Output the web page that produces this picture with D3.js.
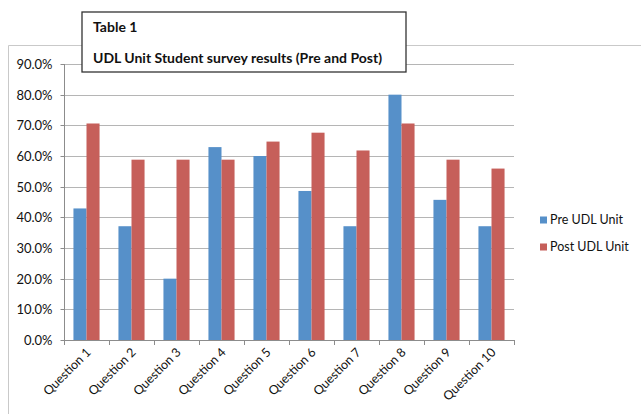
<!DOCTYPE html>
<html>
<head>
<meta charset="utf-8">
<script src="https://cdn.jsdelivr.net/npm/d3@7"></script>
<style>
  html, body { margin: 0; padding: 0; background: #fff; }
  svg { display: block; font-family: Lato, "Open Sans", sans-serif; }
</style>
</head>
<body>
<svg id="chart" width="641" height="414"></svg>
<script>
// Survey categories and the share of students answering positively
const questions = ["Question 1", "Question 2", "Question 3", "Question 4", "Question 5",
                   "Question 6", "Question 7", "Question 8", "Question 9", "Question 10"];
const seriesNames = ["Pre UDL Unit", "Post UDL Unit"];
const preValues  = [42.9, 37.1, 20.0, 62.9, 60.0, 48.6, 37.1, 80.0, 45.7, 37.1];
const postValues = [70.6, 58.8, 58.8, 58.8, 64.7, 67.6, 61.8, 70.6, 58.8, 55.9];
const seriesColors = ["#5690c9", "#c65f5a"];
const yTicks = [0, 10, 20, 30, 40, 50, 60, 70, 80, 90];
const titleLines = ["Table 1", "UDL Unit Student survey results (Pre and Post)"];

const svg = d3.select("#chart");
const plot = { left: 64, right: 514, top: 64, bottom: 340 };

// Outer chart frame (top and left edges)
svg.append("path")
  .attr("d", "M8.5,414 V45.5 H641")
  .attr("fill", "none")
  .attr("stroke", "#c9c9c9")
  .attr("stroke-width", 1);

const y = d3.scaleLinear().domain([0, 90]).range([plot.bottom, plot.top]);
const x0 = d3.scaleBand().domain(questions).range([plot.left, plot.right])
  .paddingInner(0.42).paddingOuter(0.21);
const x1 = d3.scaleBand().domain(seriesNames).range([0, x0.bandwidth()]);

// Horizontal gridlines
svg.append("g").selectAll("line").data(yTicks.filter(d => d > 0)).join("line")
  .attr("x1", plot.left).attr("x2", plot.right)
  .attr("y1", d => Math.round(y(d)) + 0.5).attr("y2", d => Math.round(y(d)) + 0.5)
  .attr("stroke", "#b5b5b5").attr("stroke-width", 1);

// Y axis
const yAxis = svg.append("g")
  .attr("transform", `translate(${plot.left + 0.5},0)`)
  .call(d3.axisLeft(y).tickValues(yTicks).tickSize(4).tickPadding(8)
    .tickFormat(d => d.toFixed(1) + "%"));
yAxis.select(".domain").attr("stroke", "#8c8c8c").attr("d", `M0,${plot.top}V${plot.bottom}`);
yAxis.selectAll(".tick line").attr("stroke", "#8c8c8c");
yAxis.selectAll(".tick").attr("transform", d => `translate(0,${Math.round(y(d)) + 0.5})`);
yAxis.selectAll("text").attr("font-size", 13).attr("fill", "#111")
  .attr("font-family", "Lato, sans-serif");

// Bars
const rows = questions.map((q, i) => ({ q, vals: [preValues[i], postValues[i]] }));
svg.append("g").selectAll("g").data(rows).join("g")
  .attr("transform", d => `translate(${x0(d.q)},0)`)
  .selectAll("rect").data(d => d.vals.map((v, j) => ({ v, s: seriesNames[j], j }))).join("rect")
  .attr("x", d => x1(d.s))
  .attr("width", x1.bandwidth())
  .attr("y", d => y(d.v))
  .attr("height", d => y(0) - y(d.v))
  .attr("fill", d => seriesColors[d.j]);

// X axis: category separators below the baseline
const xg = svg.append("g");
const step = x0.step();
const boundaries = d3.range(questions.length + 1).map(i => plot.left + i * step);
xg.append("line")
  .attr("x1", plot.left).attr("x2", plot.right)
  .attr("y1", plot.bottom + 0.5).attr("y2", plot.bottom + 0.5)
  .attr("stroke", "#8c8c8c");
xg.selectAll("line.sep").data(boundaries).join("line").attr("class", "sep")
  .attr("x1", d => Math.round(d) + 0.5).attr("x2", d => Math.round(d) + 0.5)
  .attr("y1", plot.bottom).attr("y2", plot.bottom + 5)
  .attr("stroke", "#8c8c8c");
xg.selectAll("text").data(questions).join("text")
  .attr("transform", d => `translate(${x0(d) + x0.bandwidth() / 2 + 2},${plot.bottom + 10}) rotate(-45)`)
  .attr("text-anchor", "end")
  .attr("dy", "0.35em")
  .attr("font-size", 12.5)
  .attr("fill", "#111")
  .text(d => d);

// Legend
const legend = svg.append("g").attr("transform", "translate(540,0)");
const legendY = [220, 247];
seriesNames.forEach((name, i) => {
  legend.append("rect").attr("x", 0).attr("y", legendY[i] - 3.5)
    .attr("width", 7).attr("height", 7).attr("fill", seriesColors[i]);
  legend.append("text").attr("x", 10).attr("y", legendY[i]).attr("dy", "0.35em")
    .attr("font-size", 12.5).attr("fill", "#111").text(name);
});

// Title box
const tb = svg.append("g");
tb.append("rect").attr("x", 82).attr("y", 12).attr("width", 324).attr("height", 60)
  .attr("fill", "#fff").attr("stroke", "#333").attr("stroke-width", 1.3);
tb.append("text").attr("x", 93).attr("y", 32).attr("font-size", 14).attr("font-weight", "bold")
  .attr("fill", "#111").text(titleLines[0]);
tb.append("text").attr("x", 93).attr("y", 63).attr("font-size", 14).attr("font-weight", "bold")
  .attr("fill", "#111").text(titleLines[1]);
</script>
</body>
</html>
